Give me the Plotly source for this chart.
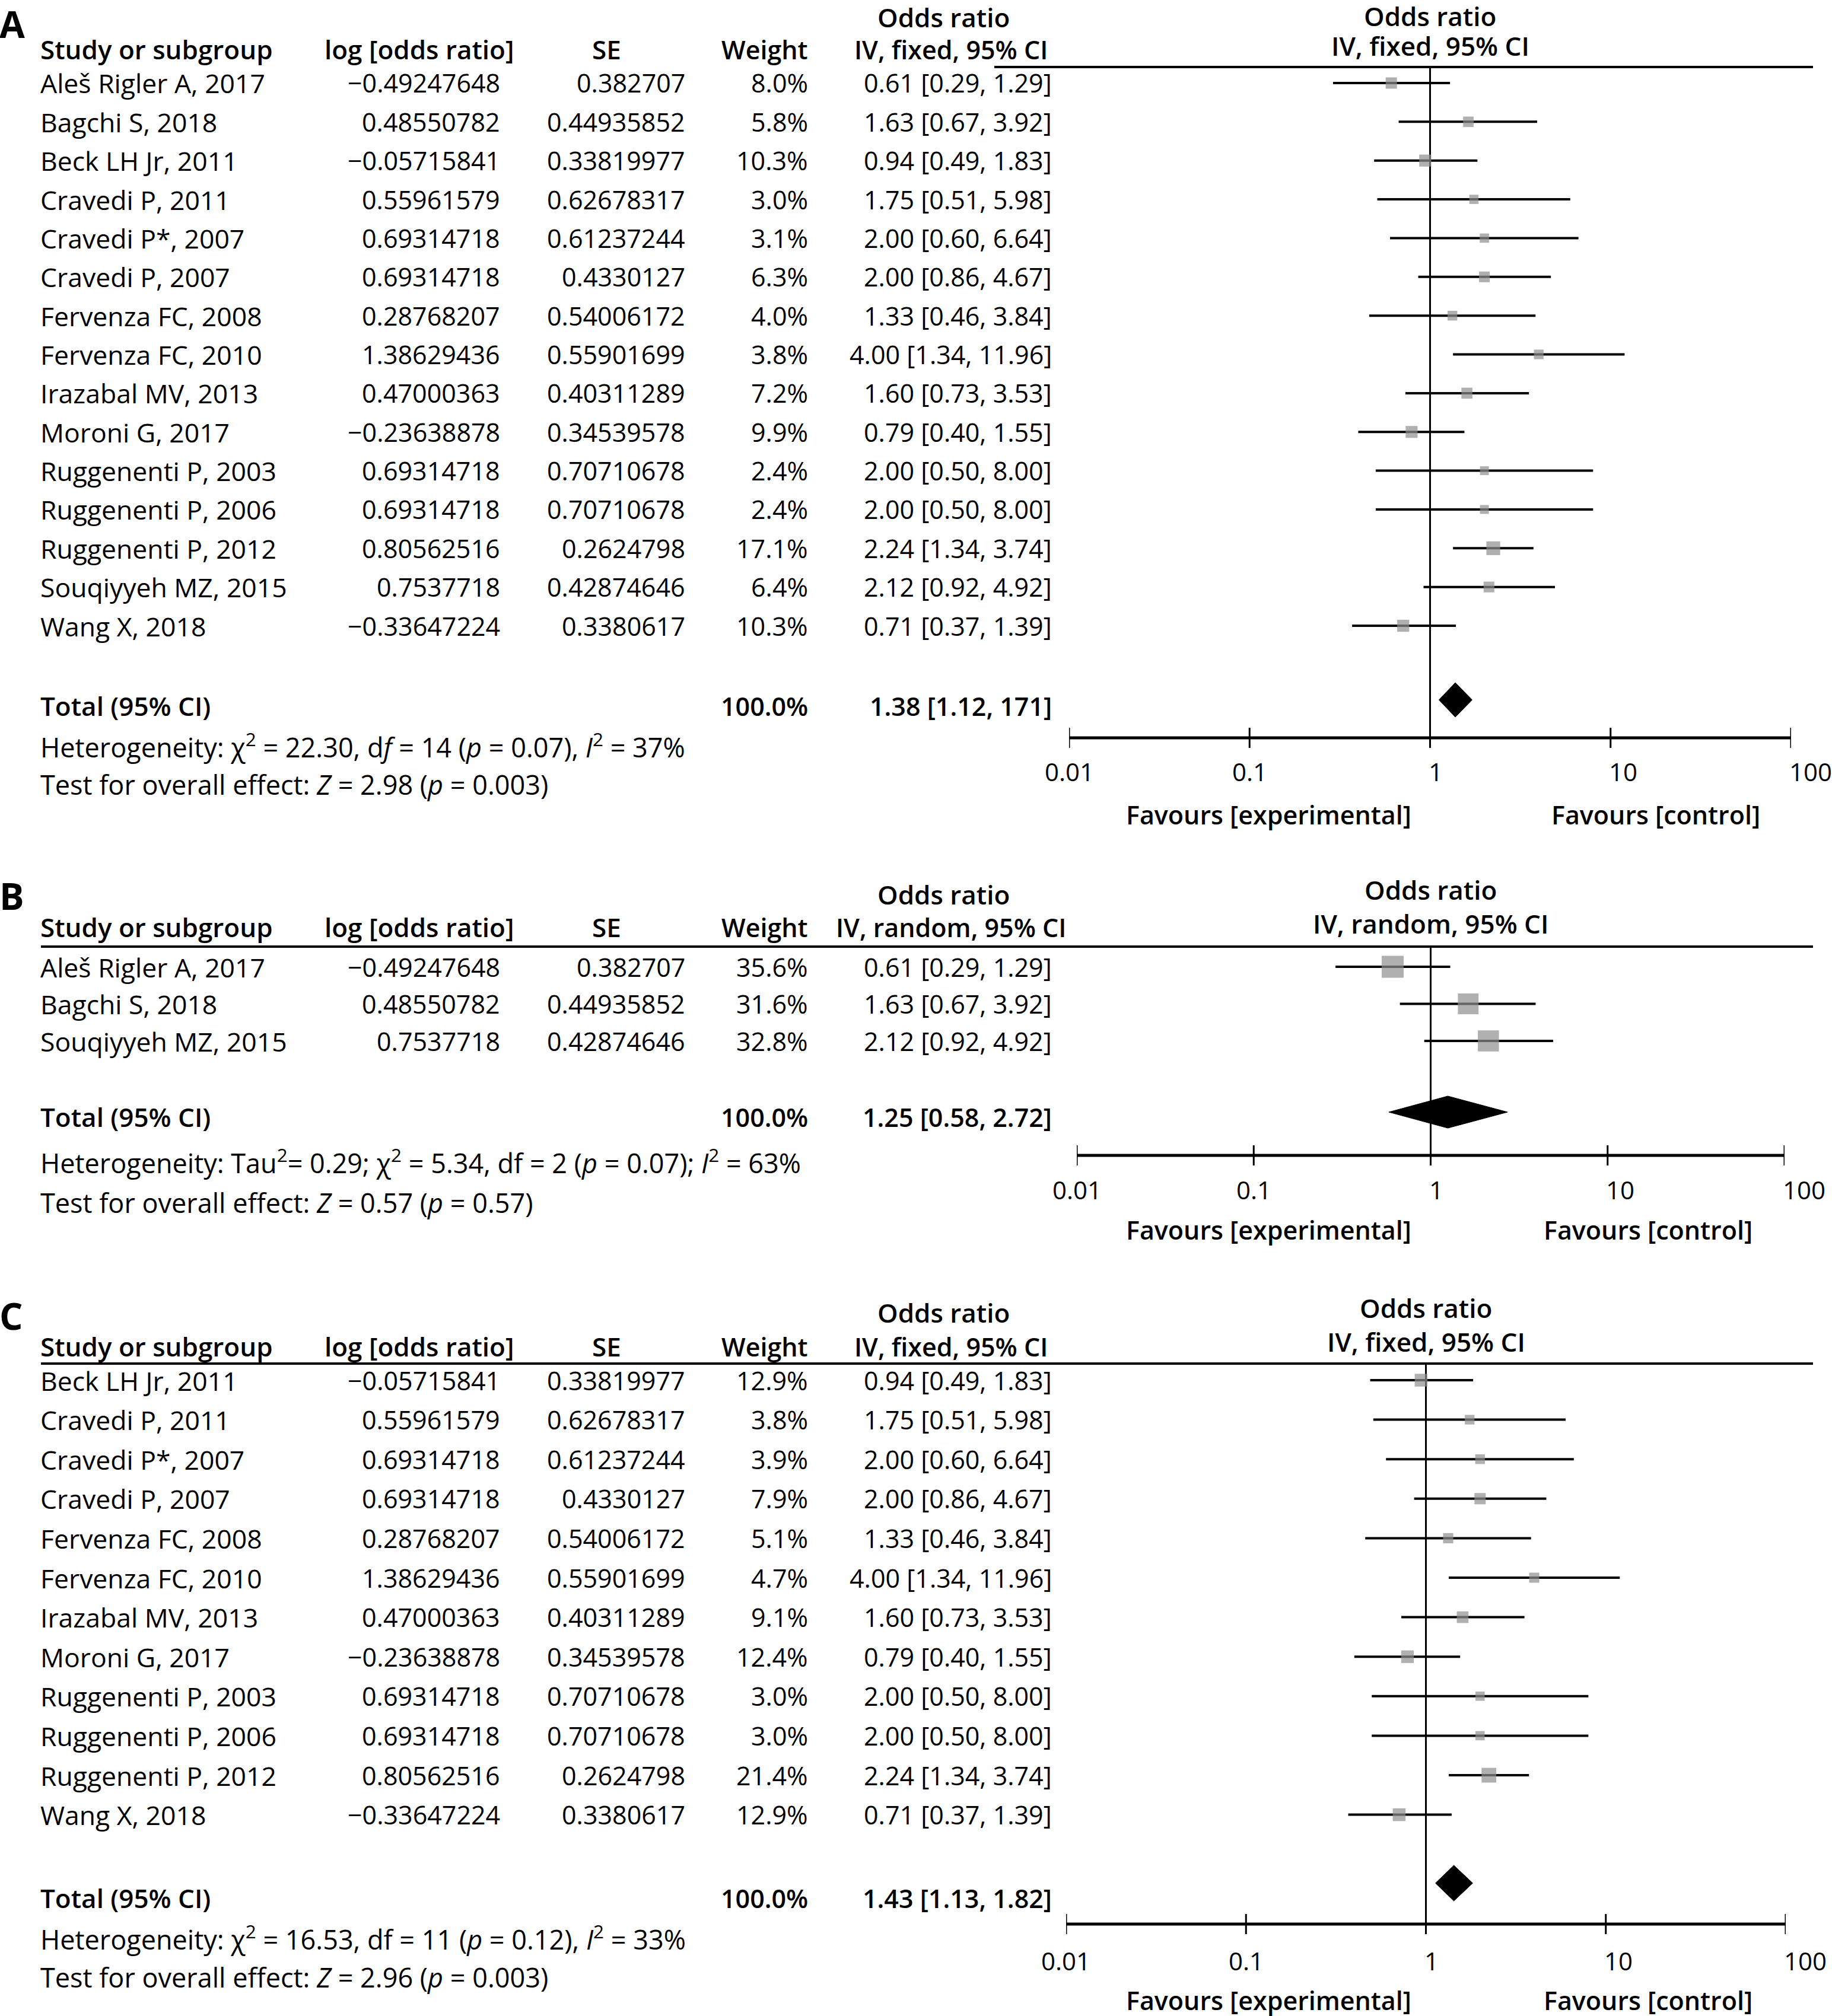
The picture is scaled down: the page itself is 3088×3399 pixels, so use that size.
import math
import plotly.graph_objects as go

# ---------------- data ----------------
tick_vals = [0.01, 0.1, 1, 10, 100]
tick_labels = ["0.01", "0.1", "1", "10", "100"]

names_A = ["Aleš Rigler A, 2017", "Bagchi S, 2018", "Beck LH Jr, 2011", "Cravedi P, 2011",
           "Cravedi P*, 2007", "Cravedi P, 2007", "Fervenza FC, 2008", "Fervenza FC, 2010",
           "Irazabal MV, 2013", "Moroni G, 2017", "Ruggenenti P, 2003", "Ruggenenti P, 2006",
           "Ruggenenti P, 2012", "Souqiyyeh MZ, 2015", "Wang X, 2018"]
logor_A = [-0.49247648, 0.48550782, -0.05715841, 0.55961579, 0.69314718, 0.69314718,
           0.28768207, 1.38629436, 0.47000363, -0.23638878, 0.69314718, 0.69314718,
           0.80562516, 0.7537718, -0.33647224]
se_A = [0.382707, 0.44935852, 0.33819977, 0.62678317, 0.61237244, 0.4330127, 0.54006172,
        0.55901699, 0.40311289, 0.34539578, 0.70710678, 0.70710678, 0.2624798, 0.42874646,
        0.3380617]
weight_A = [8.0, 5.8, 10.3, 3.0, 3.1, 6.3, 4.0, 3.8, 7.2, 9.9, 2.4, 2.4, 17.1, 6.4, 10.3]
or_A = [0.61, 1.63, 0.94, 1.75, 2.00, 2.00, 1.33, 4.00, 1.60, 0.79, 2.00, 2.00, 2.24, 2.12, 0.71]
lo_A = [0.29, 0.67, 0.49, 0.51, 0.60, 0.86, 0.46, 1.34, 0.73, 0.40, 0.50, 0.50, 1.34, 0.92, 0.37]
hi_A = [1.29, 3.92, 1.83, 5.98, 6.64, 4.67, 3.84, 11.96, 3.53, 1.55, 8.00, 8.00, 3.74, 4.92, 1.39]
total_A = [1.38, 1.12, 1.71]
total_text_A = "1.38 [1.12, 171]"
het_A = "Heterogeneity: χ<sup>2</sup> = 22.30, d<i>f</i> = 14 (<i>p</i> = 0.07), <i>I</i><sup>2</sup> = 37%"
test_A = "Test for overall effect: <i>Z</i> = 2.98 (<i>p</i> = 0.003)"

names_B = ["Aleš Rigler A, 2017", "Bagchi S, 2018", "Souqiyyeh MZ, 2015"]
logor_B = [-0.49247648, 0.48550782, 0.7537718]
se_B = [0.382707, 0.44935852, 0.42874646]
weight_B = [35.6, 31.6, 32.8]
or_B = [0.61, 1.63, 2.12]
lo_B = [0.29, 0.67, 0.92]
hi_B = [1.29, 3.92, 4.92]
total_B = [1.25, 0.58, 2.72]
total_text_B = "1.25 [0.58, 2.72]"
het_B = "Heterogeneity: Tau<sup>2</sup>= 0.29; χ<sup>2</sup> = 5.34, df = 2 (<i>p</i> = 0.07); <i>I</i><sup>2</sup> = 63%"
test_B = "Test for overall effect: <i>Z</i> = 0.57 (<i>p</i> = 0.57)"

names_C = ["Beck LH Jr, 2011", "Cravedi P, 2011", "Cravedi P*, 2007", "Cravedi P, 2007",
           "Fervenza FC, 2008", "Fervenza FC, 2010", "Irazabal MV, 2013", "Moroni G, 2017",
           "Ruggenenti P, 2003", "Ruggenenti P, 2006", "Ruggenenti P, 2012", "Wang X, 2018"]
logor_C = [-0.05715841, 0.55961579, 0.69314718, 0.69314718, 0.28768207, 1.38629436,
           0.47000363, -0.23638878, 0.69314718, 0.69314718, 0.80562516, -0.33647224]
se_C = [0.33819977, 0.62678317, 0.61237244, 0.4330127, 0.54006172, 0.55901699, 0.40311289,
        0.34539578, 0.70710678, 0.70710678, 0.2624798, 0.3380617]
weight_C = [12.9, 3.8, 3.9, 7.9, 5.1, 4.7, 9.1, 12.4, 3.0, 3.0, 21.4, 12.9]
or_C = [0.94, 1.75, 2.00, 2.00, 1.33, 4.00, 1.60, 0.79, 2.00, 2.00, 2.24, 0.71]
lo_C = [0.49, 0.51, 0.60, 0.86, 0.46, 1.34, 0.73, 0.40, 0.50, 0.50, 1.34, 0.37]
hi_C = [1.83, 5.98, 6.64, 4.67, 3.84, 11.96, 3.53, 1.55, 8.00, 8.00, 3.74, 1.39]
total_C = [1.43, 1.13, 1.82]
total_text_C = "1.43 [1.13, 1.82]"
het_C = "Heterogeneity: χ<sup>2</sup> = 16.53, df = 11 (<i>p</i> = 0.12), <i>I</i><sup>2</sup> = 33%"
test_C = "Test for overall effect: <i>Z</i> = 2.96 (<i>p</i> = 0.003)"

# ---------------- layout constants (pixels) ----------------
W, H = 3088, 3399
FONT = "Open Sans"
FS = 43          # numbers
FS_NAME = 44.5   # study names
FS_NOTE = 45     # heterogeneity / test lines
FS_HEAD = 44
BOX = "#8f8f8f"
TDY = 0

panels = [
    dict(label="A", method="IV, fixed, 95% CI", names=names_A, logor=logor_A, se=se_A,
         w=weight_A, orv=or_A, lo=lo_A, hi=hi_A, tot=total_A, tot_txt=total_text_A,
         het=het_A, test=test_A, xa="x", box=lambda w: 10 + 3.2 * math.sqrt(w),
         label_y=40, or_y=29, head_y=83, line_y=113, line_x0=1676, row0=140, step=65.36,
         total_y=1190, dia_y=1180, dia_h=58, het_y=1257, test_y=1323, axis_y=1244,
         tl_y=1300, fav_y=1373, r_or_y=27, r_iv_y=77, ax0=1802, ax1=3019,
         fav_l=2138, fav_r=2791),
    dict(label="B", method="IV, random, 95% CI", names=names_B, logor=logor_B, se=se_B,
         w=weight_B, orv=or_B, lo=lo_B, hi=hi_B, tot=total_B, tot_txt=total_text_B,
         het=het_B, test=test_B, xa="x2", box=lambda w: 6.2 * math.sqrt(w),
         label_y=1510, or_y=1508, head_y=1563, line_y=1596, line_x0=69, row0=1630, step=62.5,
         total_y=1883, dia_y=1875, dia_h=54, het_y=1958, test_y=2027, axis_y=1948,
         tl_y=2005, fav_y=2073, r_or_y=1500, r_iv_y=1557, ax0=1815, ax1=3008,
         fav_l=2138, fav_r=2778),
    dict(label="C", method="IV, fixed, 95% CI", names=names_C, logor=logor_C, se=se_C,
         w=weight_C, orv=or_C, lo=lo_C, hi=hi_C, tot=total_C, tot_txt=total_text_C,
         het=het_C, test=test_C, xa="x3", box=lambda w: 10 + 3.2 * math.sqrt(w),
         label_y=2218, or_y=2213, head_y=2270, line_y=2299, line_x0=69, row0=2327, step=66.6,
         total_y=3200, dia_y=3175, dia_h=60, het_y=3267, test_y=3333, axis_y=3244,
         tl_y=3305, fav_y=3372, r_or_y=2205, r_iv_y=2262, ax0=1797, ax1=3010,
         fav_l=2138, fav_r=2778),
]

X_STUDY, X_LOG, X_LOGH, X_SE, X_SEH, X_W, X_CI, X_CIH = 66, 845, 868, 1157, 1022, 1364, 1775, 1603
LINE_X1 = 3056

annotations = []
shapes = []


def P(x):
    return x / W


def Q(y):
    return 1 - y / H


def txt(x, y, s, anchor="left", size=FS, weight="normal"):
    annotations.append(dict(x=P(x), y=Q(y + TDY), xref="paper", yref="paper", text=s,
                            showarrow=False, xanchor=anchor, yanchor="middle",
                            font=dict(family=FONT, size=size, color="black", weight=weight)))


def num(v):
    return str(v).replace("-", "\u2212")


fig = go.Figure()
layout_axes = {}

for k, p in enumerate(panels):
    xa = p["xa"]
    axname = "xaxis" if xa == "x" else "xaxis" + xa[1:]
    layout_axes[axname] = dict(type="log", range=[-2, 2], domain=[P(p["ax0"]), P(p["ax1"])],
                               visible=False, anchor="y")

    # panel letter and headers
    txt(-3, p["label_y"], p["label"], size=62, weight="bold")
    txt(1590, p["or_y"], "Odds ratio", anchor="center", size=FS_HEAD, weight=600)
    txt(X_STUDY, p["head_y"], "Study or subgroup", size=FS_HEAD, weight=600)
    txt(X_LOGH, p["head_y"], "log [odds ratio]", anchor="right", size=FS_HEAD, weight=600)
    txt(X_SEH, p["head_y"], "SE", anchor="center", size=FS_HEAD, weight=600)
    txt(X_W, p["head_y"], "Weight", anchor="right", size=FS, weight=600)
    txt(X_CIH, p["head_y"], p["method"], anchor="center", size=FS, weight=600)
    ccx = (p["ax0"] + p["ax1"]) / 2
    txt(ccx, p["r_or_y"], "Odds ratio", anchor="center", size=FS_HEAD, weight=600)
    txt(ccx, p["r_iv_y"], p["method"], anchor="center", size=FS_HEAD, weight=600)

    shapes.append(dict(type="line", xref="paper", yref="paper", x0=P(p["line_x0"]), x1=P(LINE_X1),
                       y0=Q(p["line_y"]), y1=Q(p["line_y"]), line=dict(color="black", width=4)))

    ys = [p["row0"] + i * p["step"] for i in range(len(p["names"]))]
    for i, y in enumerate(ys):
        txt(X_STUDY, y, p["names"][i], size=FS_NAME)
        txt(X_LOG, y, num(p["logor"][i]), anchor="right")
        txt(X_SE, y, num(p["se"][i]), anchor="right")
        txt(X_W, y, f"{p['w'][i]:.1f}%", anchor="right")
        txt(X_CI, y, f"{p['orv'][i]:.2f} [{p['lo'][i]:.2f}, {p['hi'][i]:.2f}]", anchor="right")

    txt(X_STUDY, p["total_y"], "Total (95% CI)", size=FS_HEAD, weight=600)
    txt(X_W, p["total_y"], "100.0%", anchor="right", weight=600)
    txt(X_CI, p["total_y"], p["tot_txt"], anchor="right", weight=600)
    txt(X_STUDY, p["het_y"], p["het"], size=FS_NOTE)
    txt(X_STUDY, p["test_y"], p["test"], size=FS_NOTE)

    # favours labels
    txt(p["fav_l"], p["fav_y"], "Favours [experimental]", anchor="center", weight=600)
    txt(p["fav_r"], p["fav_y"], "Favours [control]", anchor="center", weight=600)

    # tick labels
    for v, lab in zip(tick_vals, tick_labels):
        annotations.append(dict(x=math.log10(v), y=p["tl_y"] + TDY, xref=xa, yref="y", text=lab,
                                showarrow=False, xanchor="center" if v < 1 else "left",
                                xshift=0 if v < 1 else -5, yanchor="middle",
                                font=dict(family=FONT, size=42, color="black")))

    # CI lines
    cx, cy = [], []
    for i, y in enumerate(ys):
        cx += [p["lo"][i], p["hi"][i], None]
        cy += [y, y, None]
    fig.add_trace(go.Scatter(x=cx, y=cy, xaxis=xa, yaxis="y", mode="lines",
                             line=dict(color="black", width=4), hoverinfo="skip"))
    # null line
    fig.add_trace(go.Scatter(x=[1, 1], y=[p["line_y"], p["axis_y"]], xaxis=xa, yaxis="y",
                             mode="lines", line=dict(color="black", width=3), hoverinfo="skip"))
    # boxes
    fig.add_trace(go.Scatter(x=p["orv"], y=ys, xaxis=xa, yaxis="y", mode="markers",
                             marker=dict(symbol="square", color=BOX,
                                         size=[p["box"](w) for w in p["w"]], line=dict(width=0)),
                             hoverinfo="skip"))
    # diamond
    est, lo, hi = p["tot"]
    dy, hh = p["dia_y"], p["dia_h"] / 2
    fig.add_trace(go.Scatter(x=[lo, est, hi, est, lo], y=[dy, dy - hh, dy, dy + hh, dy],
                             xaxis=xa, yaxis="y", mode="lines", fill="toself",
                             fillcolor="black", line=dict(color="black", width=1),
                             hoverinfo="skip"))
    # axis line
    fig.add_trace(go.Scatter(x=[tick_vals[0], tick_vals[-1]], y=[p["axis_y"], p["axis_y"]],
                             xaxis=xa, yaxis="y", mode="lines",
                             line=dict(color="black", width=5), hoverinfo="skip"))
    tx, ty = [], []
    for v in tick_vals:
        tx += [v, v, None]
        ty += [p["axis_y"] - 17, p["axis_y"] + 17, None]
    fig.add_trace(go.Scatter(x=tx, y=ty, xaxis=xa, yaxis="y", mode="lines",
                             line=dict(color="black", width=3), hoverinfo="skip"))

fig.update_layout(
    width=W, height=H, autosize=False,
    margin=dict(l=0, r=0, t=0, b=0, pad=0),
    paper_bgcolor="white", plot_bgcolor="rgba(0,0,0,0)",
    showlegend=False,
    yaxis=dict(range=[H, 0], domain=[0, 1], visible=False),
    annotations=annotations, shapes=shapes,
    **layout_axes,
)

fig.write_html(
    "out.html",
    config={"displayModeBar": False},
    post_script="document.body.style.margin='0px';document.documentElement.style.overflow='hidden';",
)
